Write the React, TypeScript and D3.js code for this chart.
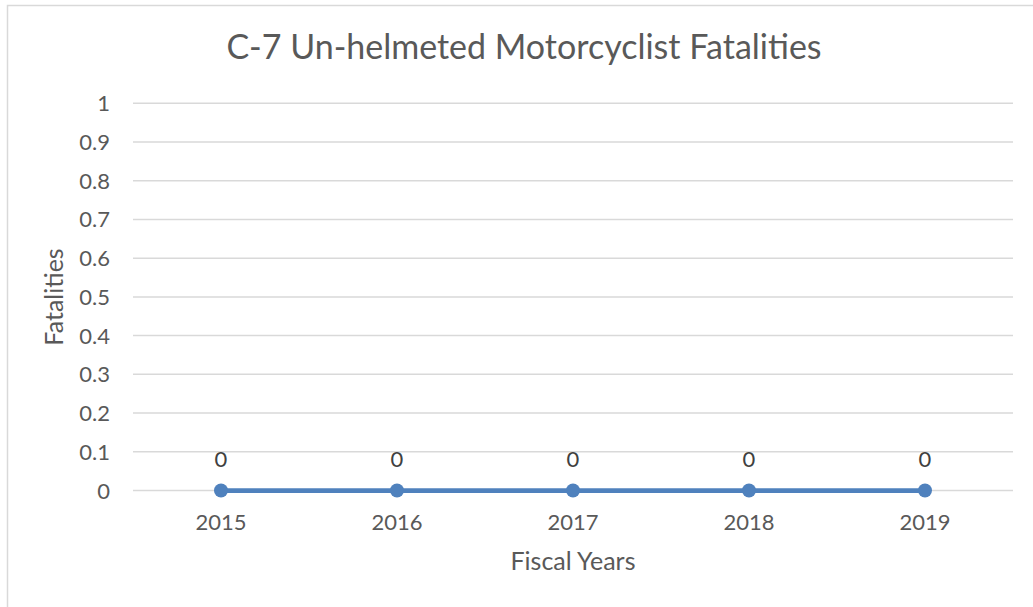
import React from "react"
import * as d3 from "d3"

const years = ["2015", "2016", "2017", "2018", "2019"]
const fatalities = [0, 0, 0, 0, 0]
const yTicks = [0, 0.1, 0.2, 0.3, 0.4, 0.5, 0.6, 0.7, 0.8, 0.9, 1]

const W = 1033
const H = 607
const FONT = "Lato, 'Open Sans', sans-serif"

export default function App() {
  const left = 133, right = 1013, top = 103.3, bottom = 490.5

  const x = d3.scaleBand().domain(years).range([left, right])
  const y = d3.scaleLinear().domain([0, 1]).range([bottom, top])
  const cx = (d: string) => (x(d) as number) + x.bandwidth() / 2

  const line = d3.line<number>()
    .x((_, i) => cx(years[i]))
    .y(d => y(d))

  return (
    <svg width={W} height={H} style={{ position: "absolute", left: 0, top: 0, background: "#fff" }}>
      <rect x={7.5} y={5.5} width={W + 20} height={H + 20} fill="#fff" stroke="#d9d9d9" strokeWidth={1.5} />

      {/* title */}
      <text x={524} y={59} textAnchor="middle"
        fontFamily={FONT} fontSize={34} fill="#595959">
        C-7 Un-helmeted Motorcyclist Fatalities
      </text>

      {/* gridlines + y ticks */}
      {yTicks.map(t => (
        <g key={t}>
          <line x1={left} x2={right} y1={y(t)} y2={y(t)} stroke="#d9d9d9" strokeWidth={1.5} />
          <text x={110} y={y(t) + 8} textAnchor="end"
            fontFamily={FONT} fontSize={22} fill="#595959">{d3.format("~g")(t)}</text>
        </g>
      ))}

      {years.map(d => (
        <text key={d} x={cx(d)} y={530} textAnchor="middle"
          fontFamily={FONT} fontSize={22} fill="#595959">{d}</text>
      ))}

      {/* series */}
      <path d={line(fatalities) || ""} fill="none" stroke="#4f81bd" strokeWidth={4.75} strokeLinecap="round" />
      {fatalities.map((v, i) => (
        <g key={i}>
          <circle cx={cx(years[i])} cy={y(v)} r={7} fill="#4f81bd" />
          <text x={cx(years[i])} y={y(v) - 24} textAnchor="middle"
            fontFamily={FONT} fontSize={22} fill="#404040">{v}</text>
        </g>
      ))}

      {/* axis titles */}
      <text x={573} y={570} textAnchor="middle"
        fontFamily={FONT} fontSize={25} fill="#595959">Fiscal Years</text>
      <text transform={`translate(63,297) rotate(-90)`} textAnchor="middle"
        fontFamily={FONT} fontSize={25} fill="#595959">Fatalities</text>
    </svg>
  )
}
